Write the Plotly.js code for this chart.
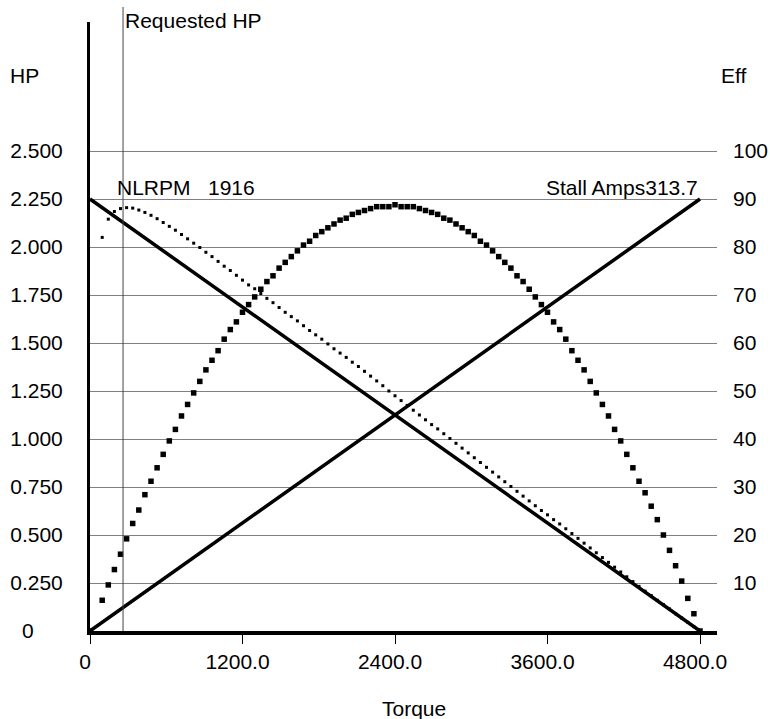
<!DOCTYPE html>
<html>
<head>
<meta charset="utf-8">
<script src="https://cdn.plot.ly/plotly-3.0.1.min.js"></script>
<style>html,body{margin:0;padding:0;background:#fff;}#chart{width:770px;height:719px;}</style>
</head>
<body>
<div id="chart"></div>
<script>
// ---- data ----
var torque = [0,96,144,192,240,288,336,384,432,480,528,576,624,672,720,768,816,864,912,960,
  1008,1056,1104,1152,1200,1248,1296,1344,1392,1440,1488,1536,1584,1632,1680,1728,1776,1824,1872,1920,
  1968,2016,2064,2112,2160,2208,2256,2304,2352,2400,2448,2496,2544,2592,2640,2688,2736,2784,2832,2880,
  2928,2976,3024,3072,3120,3168,3216,3264,3312,3360,3408,3456,3504,3552,3600,3648,3696,3744,3792,3840,
  3888,3936,3984,4032,4080,4128,4176,4224,4272,4320,4368,4416,4464,4512,4560,4608,4656,4704,4752,4800];

var hp = [0,0.16,0.24,0.32,0.40,0.48,0.56,0.63,0.71,0.78,0.85,0.92,0.99,1.05,1.12,1.18,1.24,1.30,1.36,1.41,
  1.46,1.52,1.57,1.61,1.66,1.70,1.74,1.78,1.82,1.85,1.89,1.92,1.95,1.98,2.01,2.03,2.06,2.08,2.10,2.12,
  2.14,2.15,2.17,2.18,2.19,2.20,2.21,2.21,2.21,2.22,2.21,2.21,2.21,2.20,2.19,2.18,2.17,2.15,2.14,2.12,
  2.10,2.08,2.06,2.03,2.01,1.98,1.95,1.92,1.89,1.85,1.82,1.78,1.74,1.70,1.66,1.61,1.57,1.52,1.46,1.41,
  1.36,1.30,1.24,1.18,1.12,1.05,0.99,0.92,0.85,0.78,0.72,0.65,0.58,0.50,0.42,0.34,0.26,0.17,0.09,0];

var eff = [null,82.0,85.8,87.4,88.0,88.2,88.1,87.7,87.2,86.6,85.9,85.1,84.3,83.5,82.6,81.7,80.8,79.9,78.9,78.0,
  77.0,76.0,75.1,74.1,73.1,72.1,71.3,70.3,69.3,68.4,67.4,66.4,65.5,64.6,63.6,62.6,61.7,60.8,59.8,58.8,
  57.9,57.0,56.0,55.1,54.1,53.1,52.1,51.1,50.0,49.0,48.0,47.0,46.0,45.0,44.0,43.0,42.1,41.1,40.1,39.1,
  38.1,37.1,36.1,35.1,34.1,33.1,32.1,31.1,30.1,29.1,28.1,27.1,26.1,25.1,24.2,23.2,22.3,21.3,20.3,19.3,
  18.3,17.3,16.3,15.3,14.3,13.3,12.3,11.3,10.3,9.3,8.3,7.4,6.4,5.5,4.6,3.6,2.7,1.8,0.9,0];

var speedLineX = [0, 4800];
var speedLineY = [2.25, 0];
var currentLineX = [0, 4800];
var currentLineY = [0, 2.25];
var requestedTorque = 260;

var xTickVals = [0, 1200, 2400, 3600, 4800];
var xTickText = ["0", "1200.0", "2400.0", "3600.0", "4800.0"];
var hpTickVals = [0, 0.25, 0.5, 0.75, 1.0, 1.25, 1.5, 1.75, 2.0, 2.25, 2.5];
var hpTickText = ["0\u00a0\u00a0\u00a0\u00a0\u00a0", "0.250", "0.500", "0.750", "1.000", "1.250", "1.500", "1.750", "2.000", "2.250", "2.500"];
var effTickVals = [10, 20, 30, 40, 50, 60, 70, 80, 90, 100];
var effTickText = ["10", "20", "30", "40", "50", "60", "70", "80", "90", "100"];

var nlrpmLabel = "NLRPM   1916";
var stallLabel = "Stall Amps313.7";

// ---- chart ----
var FONT = {family: "Liberation Sans, Arial, sans-serif", size: 21, color: "#000"};
var W = 770, H = 719, ML = 90, MR = 53, MT = 22, MB = 88;
var plotW = W - ML - MR, plotH = H - MT - MB;
var pxPerHP = 192;             // 0.25 HP per 48 px
var pxPerTorque = 610 / 4800;  // 0 -> x=90, 4800 -> x=700
var yTop = plotH / pxPerHP;
var xTop = plotW / pxPerTorque;

var traces = [
  {x: speedLineX, y: speedLineY, mode: "lines", line: {color: "#000", width: 3.5}, hoverinfo: "skip"},
  {x: currentLineX, y: currentLineY, mode: "lines", line: {color: "#000", width: 3.5}, hoverinfo: "skip"},
  {x: torque, y: hp, mode: "markers", marker: {symbol: "square", size: 5.5, color: "#000"}, cliponaxis: false, hoverinfo: "skip"},
  {x: torque, y: eff, yaxis: "y2", mode: "markers", marker: {symbol: "square", size: 3, color: "#000"}, cliponaxis: false, hoverinfo: "skip"}
];

function py(p) { return (MT + plotH - p) / plotH; }
function px(p) { return (p - ML) / plotW; }

var layout = {
  width: W, height: H,
  margin: {l: ML, r: MR, t: MT, b: MB, pad: 0},
  paper_bgcolor: "#fff", plot_bgcolor: "#fff",
  showlegend: false, hovermode: false,
  font: FONT,
  xaxis: {
    range: [0, xTop], tickvals: xTickVals, ticktext: xTickText,
    showgrid: false, zeroline: false,
    showline: true, linecolor: "#000", linewidth: 4,
    ticks: "outside", ticklen: 9, tickwidth: 1, tickcolor: "#000",
    ticklabelshift: -5, ticklabelstandoff: 0,
    tickfont: FONT
  },
  yaxis: {
    range: [0, yTop], tickvals: hpTickVals, ticktext: hpTickText,
    showgrid: true, gridcolor: "#808080", gridwidth: 1,
    zeroline: false, showline: true, linecolor: "#000", linewidth: 3,
    ticks: "", ticklabelstandoff: 20, tickfont: FONT
  },
  yaxis2: {
    range: [0, yTop * 40], overlaying: "y", side: "right",
    tickvals: effTickVals, ticktext: effTickText,
    showgrid: false, zeroline: false, showline: false,
    ticks: "", ticklabelstandoff: 15, tickfont: FONT
  },
  shapes: [
    {type: "line", xref: "x", yref: "paper", x0: requestedTorque, x1: requestedTorque,
     y0: 0, y1: py(7), line: {color: "#444", width: 1}, layer: "above"}
  ],
  annotations: [
    {text: "Requested HP", xref: "x", yref: "paper", x: requestedTorque, y: py(21), xanchor: "left", yanchor: "middle", xshift: 0, showarrow: false, font: FONT},
    {text: nlrpmLabel, xref: "paper", yref: "paper", x: px(115), y: py(187), xanchor: "left", yanchor: "middle", showarrow: false, font: FONT},
    {text: stallLabel, xref: "paper", yref: "paper", x: px(700), y: py(187), xanchor: "right", yanchor: "middle", showarrow: false, font: FONT},
    {text: "HP", xref: "paper", yref: "paper", x: px(8), y: py(75), xanchor: "left", yanchor: "middle", showarrow: false, font: FONT},
    {text: "Eff", xref: "paper", yref: "paper", x: px(733), y: py(75), xanchor: "center", yanchor: "middle", showarrow: false, font: FONT},
    {text: "Torque", xref: "paper", yref: "paper", x: px(414), y: py(708), xanchor: "center", yanchor: "middle", showarrow: false, font: FONT}
  ]
};

Plotly.newPlot("chart", traces, layout, {staticPlot: true, displayModeBar: false});
</script>
</body>
</html>
